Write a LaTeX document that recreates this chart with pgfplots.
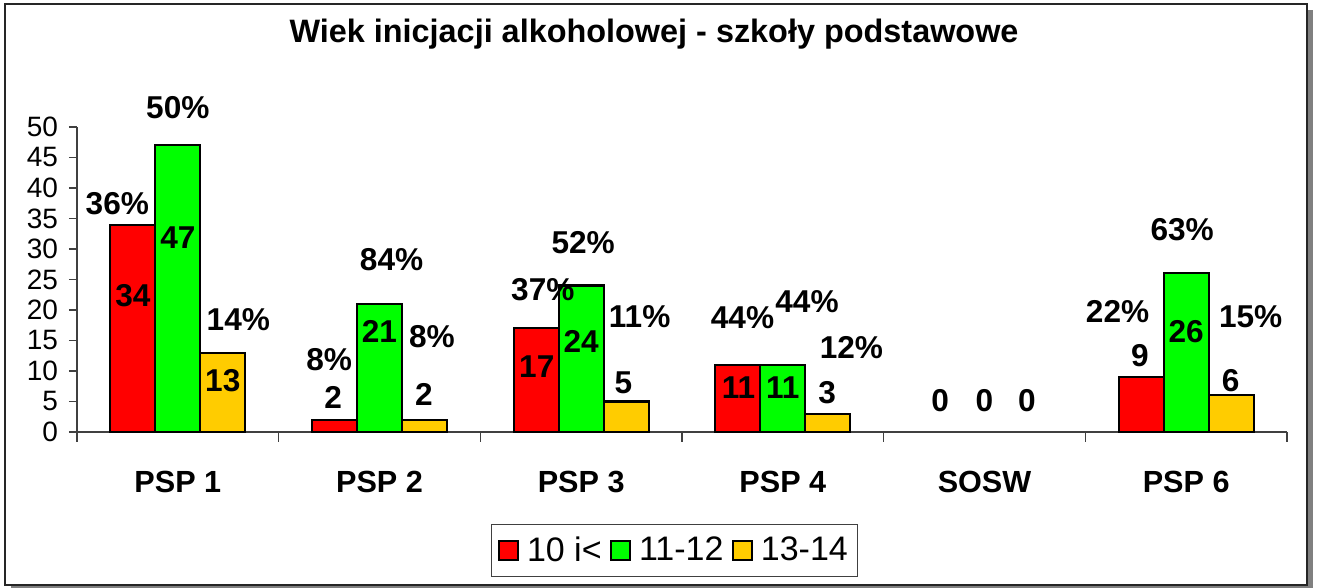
\documentclass[border=0pt]{standalone}
\usepackage{fontspec}
\setmainfont{Liberation Sans}
\usepackage{pgfplots}
\pgfplotsset{compat=1.18}
\definecolor{cred}{RGB}{255,0,0}
\definecolor{cgreen}{RGB}{0,255,0}
\definecolor{cyellow}{RGB}{255,204,0}
\newcommand{\lblfont}{\fontsize{15.8}{18}\selectfont\bfseries}
\begin{document}
\begin{tikzpicture}
\useasboundingbox (-38.5pt,-78pt) rectangle (620pt,216pt);
\fill[black!50] (-33pt,-79.5pt) rectangle (618pt,211pt);
\filldraw[fill=white, draw=black!85, line width=1pt] (-36pt,-76.5pt) rectangle (615pt,214pt);
\node[font=\fontsize{16.2}{18}\selectfont\bfseries] at (288.5pt,199pt) {Wiek inicjacji alkoholowej - szkoły podstawowe};
\begin{axis}[
  at={(0pt,0pt)}, anchor=south west,
  scale only axis, width=605pt, height=152.5pt,
  xmin=-0.5, xmax=5.5, ymin=0, ymax=50,
  clip=false,
  axis x line=bottom, axis y line=left,
  axis line style={-, black!75, line width=0.6pt},
  tick align=outside,
  xtick={0,...,5},
  xticklabels={PSP 1,PSP 2,PSP 3,PSP 4,SOSW,PSP 6},
  major x tick style={draw=none},
  minor xtick={-0.5,0.5,...,5.5},
  minor tick length=5pt,
  major tick length=4pt,
  every tick/.style={black!75, line width=0.6pt},
  ytick={0,5,...,50},
  xticklabel style={font=\fontsize{15.3}{17}\selectfont\bfseries, anchor=base, yshift=-26.5pt},
  yticklabel style={font=\fontsize{14}{16}\selectfont, anchor=east, xshift=-2pt},
  /pgf/number format/assume math mode=true,
  legend style={at={(0.494,-0.3885)}, anchor=center, legend columns=-1,
    draw=black!75, line width=0.6pt, font=\fontsize{17}{19}\selectfont,
    inner xsep=3pt, inner ysep=4pt, column sep=2pt},
  legend image code/.code={\draw[#1, line width=1.1pt] (0pt,-4.8pt) rectangle (9.6pt,4.8pt);},
]
\addplot[ybar, bar width=0.223, bar shift=-0.223, fill=cred, draw=black, line width=1.1pt]
  coordinates {(0,34) (1,2) (2,17) (3,11) (5,9)};
\addplot[ybar, bar width=0.223, bar shift=0, fill=cgreen, draw=black, line width=1.1pt]
  coordinates {(0,47) (1,21) (2,24) (3,11) (5,26)};
\addplot[ybar, bar width=0.223, bar shift=0.223, fill=cyellow, draw=black, line width=1.1pt]
  coordinates {(0,13) (1,2) (2,5) (3,3) (5,6)};
\legend{10 i<,11-12,13-14}
% value labels
\addplot[forget plot, draw=none, mark=none, nodes near coords, point meta=explicit symbolic,
  nodes near coords style={anchor=center, font=\lblfont, inner sep=0pt}]
  coordinates {
  (-0.223,22.3)[34] (0,31.9)[47] (0.223,8.5)[13]
  (0.77,5.7)[2] (1,16.4)[21] (1.22,6.1)[2]
  (1.78,10.7)[17] (2,14.8)[24] (2.21,8.0)[5]
  (2.78,7.2)[11] (3,7.2)[11] (3.22,6.4)[3]
  (3.78,5.2)[0] (4,5.2)[0] (4.21,5.2)[0]
  (4.77,12.6)[9] (5,16.4)[26] (5.22,8.5)[6]
  };
% percentage labels
\addplot[forget plot, draw=none, mark=none, nodes near coords, point meta=explicit symbolic,
  nodes near coords style={anchor=center, font=\lblfont, inner sep=0pt}]
  coordinates {
  (-0.30,37.5)[36\%] (0,53.2)[50\%] (0.30,18.4)[14\%]
  (0.75,11.8)[8\%] (1.06,28.2)[84\%] (1.26,15.6)[8\%]
  (1.81,23.3)[37\%] (2.01,31.1)[52\%] (2.29,18.9)[11\%]
  (2.80,18.7)[44\%] (3.12,21.3)[44\%] (3.34,13.8)[12\%]
  (4.66,19.7)[22\%] (4.98,33.1)[63\%] (5.32,18.9)[15\%]
  };
\end{axis}
\end{tikzpicture}
\end{document}
